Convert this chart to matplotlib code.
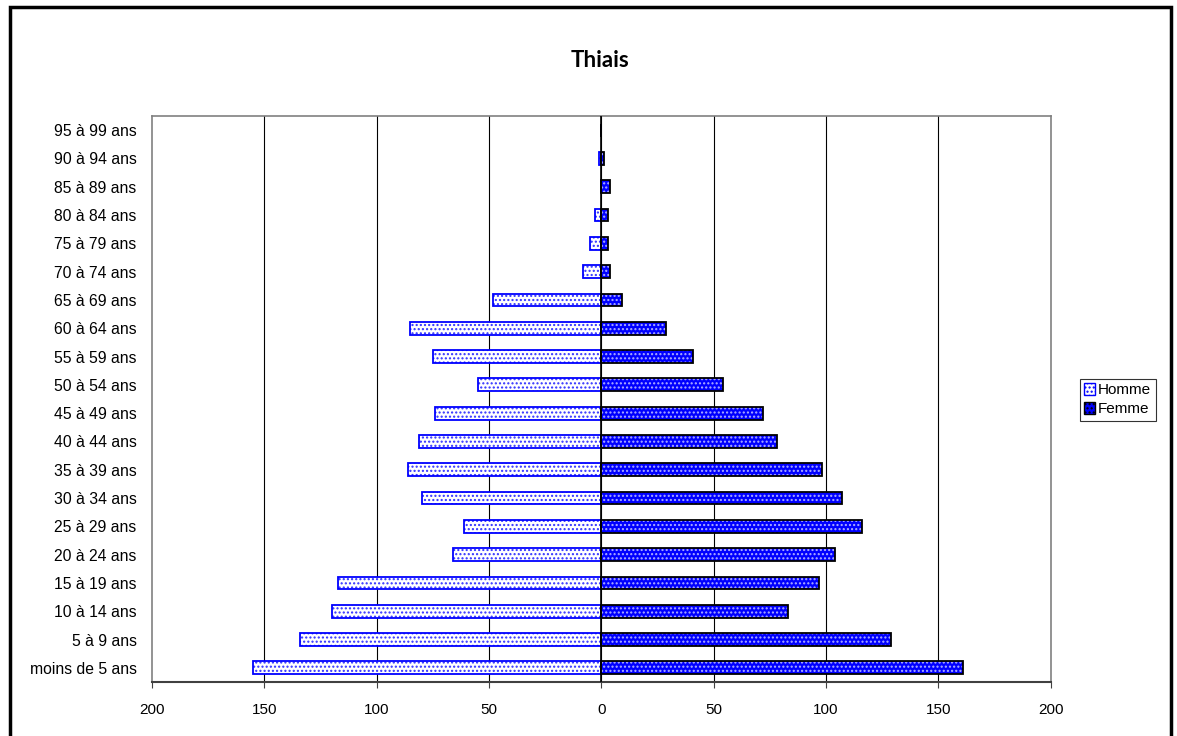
import numpy as np
import matplotlib.pyplot as plt
from matplotlib.patches import Rectangle, Patch

# Age groups, bottom to top
ages = ['moins de 5 ans', '5 à 9 ans', '10 à 14 ans', '15 à 19 ans', '20 à 24 ans',
        '25 à 29 ans', '30 à 34 ans', '35 à 39 ans', '40 à 44 ans', '45 à 49 ans',
        '50 à 54 ans', '55 à 59 ans', '60 à 64 ans', '65 à 69 ans', '70 à 74 ans',
        '75 à 79 ans', '80 à 84 ans', '85 à 89 ans', '90 à 94 ans', '95 à 99 ans']
hommes = [155, 134, 120, 117, 66, 61, 80, 86, 81, 74,
          55, 75, 85, 48, 8, 5, 3, 0, 1, 0]
femmes = [161, 129, 83, 97, 104, 116, 107, 98, 78, 72,
          54, 41, 29, 9, 4, 3, 3, 4, 1, 0]
xticks = [-200, -150, -100, -50, 0, 50, 100, 150, 200]

plt.rcParams['font.family'] = ['Liberation Sans', 'DejaVu Sans']
plt.rcParams['hatch.linewidth'] = 1.0

fig = plt.figure(figsize=(11.77, 7.36), dpi=100)
ax = fig.add_axes([0.1291, 0.0734, 0.7636, 0.769])

y = np.arange(len(ages))
h = 0.45
left = -np.array(hommes)

# Homme: white with blue dots, blue outline
ax.barh(y, left, height=h, color='white', edgecolor='#3030ff', hatch='....', linewidth=0, zorder=3)
ax.barh(y, left, height=h, fill=False, edgecolor='#0000ff', linewidth=1.3, zorder=4)
# Femme: blue with white dots, black outline
ax.barh(y, femmes, height=h, color='#0000ff', edgecolor='#b0b0ff', hatch='....', linewidth=0, zorder=3)
ax.barh(y, femmes, height=h, fill=False, edgecolor='black', linewidth=1.3, zorder=4)

ax.set_xlim(-200, 200)
ax.set_ylim(-0.5, len(ages) - 0.5)
ax.set_xticks(xticks)
ax.set_xticklabels([str(abs(t)) for t in xticks], fontsize=11)
ax.set_yticks(y)
ax.set_yticklabels(ages, fontsize=11.3)
ax.tick_params(axis='y', length=0, pad=11)
ax.tick_params(axis='x', length=4, direction='out', color='#404040', pad=11)

for t in xticks[1:-1]:
    ax.axvline(t, color='black', linewidth=0.8, zorder=1)
ax.axvline(0, color='black', linewidth=1.2, zorder=5)

for side in ['left', 'top', 'right']:
    ax.spines[side].set_color('#808080')
    ax.spines[side].set_linewidth(1.2)
ax.spines['bottom'].set_color('#404040')
ax.spines['bottom'].set_linewidth(1.5)

fig.text(0.51, 0.918, 'Thiais', ha='center', va='center', fontsize=16,
         fontweight='bold', family=['Lato', 'DejaVu Sans'])

handles = [Patch(facecolor='white', edgecolor='#0000ff', hatch='....', label='Homme'),
           Patch(facecolor='#0000ff', edgecolor='black', hatch='....', label='Femme')]
leg = fig.legend(handles=handles, loc='center left', bbox_to_anchor=(0.911, 0.457),
                 fontsize=11, frameon=True, fancybox=False, handlelength=0.7,
                 handleheight=0.8, handletextpad=0.2, borderpad=0.3, labelspacing=0.3)
leg.get_frame().set_edgecolor('black')
leg.get_frame().set_linewidth(0.8)

# outer chart border
fig.patches.append(Rectangle((0.0085, -0.01), 0.9865, 1.0005, transform=fig.transFigure,
                             fill=False, edgecolor='black', linewidth=2.5))

fig.savefig('out.png', dpi=100)
